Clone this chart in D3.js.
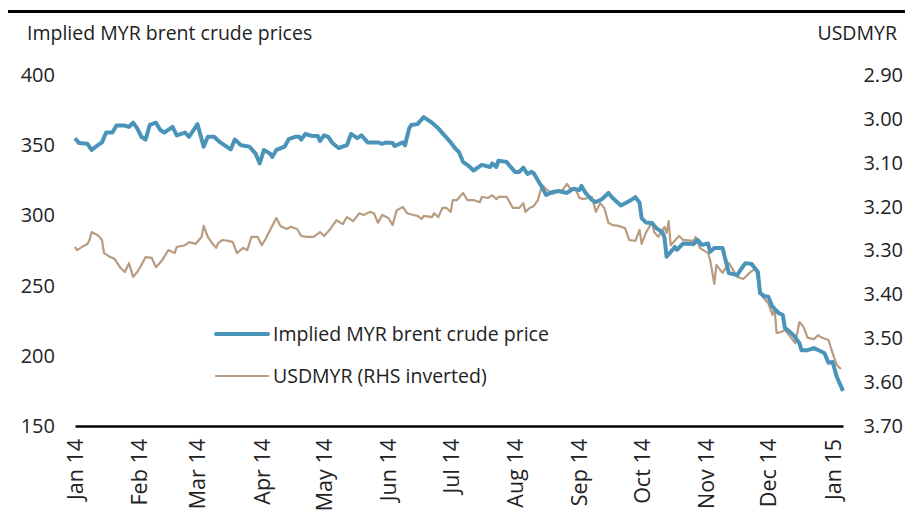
<!DOCTYPE html>
<html>
<head>
<meta charset="utf-8">
<script src="https://cdn.jsdelivr.net/npm/d3@7"></script>
<style>
  body { margin: 0; background: #fff; }
  svg text { font-family: "Open Sans", "Noto Sans", sans-serif; fill: #222; }
</style>
</head>
<body>
<div id="chart"></div>
<script>
// implied MYR brent crude price (LHS)
var brentDates = ["2014-01-01","2014-01-03","2014-01-07","2014-01-09","2014-01-12","2014-01-14","2014-01-16","2014-01-19","2014-01-21","2014-01-25",
  "2014-01-27","2014-01-29","2014-01-31","2014-02-02","2014-02-04","2014-02-06","2014-02-09","2014-02-11","2014-02-13","2014-02-17",
  "2014-02-19","2014-02-23","2014-02-25","2014-03-01","2014-03-04","2014-03-06","2014-03-09","2014-03-12","2014-03-17","2014-03-19",
  "2014-03-22","2014-03-26","2014-03-29","2014-03-31","2014-04-02","2014-04-05","2014-04-06","2014-04-08","2014-04-12","2014-04-14",
  "2014-04-17","2014-04-19","2014-04-20","2014-04-22","2014-04-25","2014-04-28","2014-04-29","2014-05-01","2014-05-03","2014-05-05",
  "2014-05-08","2014-05-12","2014-05-14","2014-05-17","2014-05-19","2014-05-22","2014-05-27","2014-05-29","2014-05-31","2014-06-03",
  "2014-06-04","2014-06-08","2014-06-09","2014-06-11","2014-06-12","2014-06-15","2014-06-18","2014-06-22","2014-06-25","2014-06-28",
  "2014-07-01","2014-07-03","2014-07-05","2014-07-07","2014-07-09","2014-07-12","2014-07-16","2014-07-20","2014-07-21","2014-07-23",
  "2014-07-24","2014-07-28","2014-07-29","2014-08-01","2014-08-03","2014-08-05","2014-08-07","2014-08-09","2014-08-10","2014-08-12",
  "2014-08-14","2014-08-16","2014-08-19","2014-08-22","2014-08-26","2014-08-29","2014-09-01","2014-09-02","2014-09-04","2014-09-07",
  "2014-09-09","2014-09-12","2014-09-15","2014-09-17","2014-09-21","2014-09-26","2014-09-28","2014-09-30","2014-10-01","2014-10-03",
  "2014-10-06","2014-10-08","2014-10-11","2014-10-12","2014-10-13","2014-10-15","2014-10-17","2014-10-18","2014-10-21","2014-10-26",
  "2014-10-28","2014-10-30","2014-11-02","2014-11-03","2014-11-05","2014-11-09","2014-11-10","2014-11-12","2014-11-16","2014-11-18",
  "2014-11-20","2014-11-23","2014-11-26","2014-11-27","2014-11-29","2014-12-01","2014-12-03","2014-12-06","2014-12-08","2014-12-09",
  "2014-12-13","2014-12-16","2014-12-17","2014-12-20","2014-12-23","2014-12-26","2014-12-28","2014-12-30","2015-01-01","2015-01-03",
  "2015-01-06"];
var brentValues = [355,351.5,351,346.6,350,352,359,359,364,364,
  363,366,362,356,354,364.4,366,361,359,363,
  357,359,356,365,349,356,356,352,347,354,
  350,349,344,337,346.6,344,341.6,346.6,349,354.4,
  356,356,354,358,356.6,356.6,353,357,356,351.6,
  348,350,358,355,357,352,352,351,352,351.6,
  349.4,352,350,362,364.4,365,370,366,362,357,
  352,348,345,338,336,332,336,334.5,337,334.5,
  339,338,336,331,331,334,329.5,331,330,325,
  320,314.5,316.7,317.4,316,319,318,321,316,311,
  309.5,311.7,316,312.4,307,311,313,309,298,295,
  294.6,291,288,284,270.5,274,277.5,275.4,280,279.6,
  282.5,279,280,274,276.8,276.8,270.5,259,257.5,262,
  266,265.4,259.7,244.7,242.6,242,235,230.5,229,220,
  215,209,204,204,205.5,203.4,202,195,195.6,185,
  175];

// USDMYR (RHS, inverted)
var fxDates = ["2014-01-01","2014-01-02","2014-01-05","2014-01-07","2014-01-08","2014-01-09","2014-01-12","2014-01-14","2014-01-15","2014-01-18",
  "2014-01-20","2014-01-23","2014-01-25","2014-01-27","2014-01-29","2014-01-31","2014-02-02","2014-02-04","2014-02-07","2014-02-09",
  "2014-02-12","2014-02-15","2014-02-18","2014-02-19","2014-02-23","2014-02-25","2014-02-28","2014-03-03","2014-03-04","2014-03-06",
  "2014-03-08","2014-03-10","2014-03-11","2014-03-13","2014-03-16","2014-03-18","2014-03-20","2014-03-23","2014-03-25","2014-03-27",
  "2014-03-30","2014-04-01","2014-04-03","2014-04-06","2014-04-08","2014-04-10","2014-04-13","2014-04-15","2014-04-18","2014-04-20",
  "2014-04-23","2014-04-26","2014-04-29","2014-05-01","2014-05-04","2014-05-07","2014-05-10","2014-05-12","2014-05-15","2014-05-18",
  "2014-05-20","2014-05-23","2014-05-25","2014-05-27","2014-05-29","2014-06-01","2014-06-03","2014-06-05","2014-06-08","2014-06-10",
  "2014-06-13","2014-06-15","2014-06-17","2014-06-18","2014-06-22","2014-06-23","2014-06-25","2014-06-27","2014-06-29","2014-07-01",
  "2014-07-02","2014-07-04","2014-07-07","2014-07-09","2014-07-12","2014-07-15","2014-07-16","2014-07-19","2014-07-21","2014-07-23",
  "2014-07-24","2014-07-28","2014-07-31","2014-08-03","2014-08-05","2014-08-06","2014-08-08","2014-08-10","2014-08-12","2014-08-14",
  "2014-08-16","2014-08-19","2014-08-21","2014-08-24","2014-08-26","2014-08-28","2014-08-30","2014-09-01","2014-09-03","2014-09-07",
  "2014-09-09","2014-09-11","2014-09-13","2014-09-15","2014-09-17","2014-09-20","2014-09-23","2014-09-25","2014-09-28","2014-09-30",
  "2014-10-01","2014-10-03","2014-10-06","2014-10-07","2014-10-09","2014-10-11","2014-10-12","2014-10-13","2014-10-14","2014-10-15",
  "2014-10-19","2014-10-21","2014-10-26","2014-10-27","2014-10-29","2014-11-02","2014-11-03","2014-11-05","2014-11-06","2014-11-09",
  "2014-11-12","2014-11-16","2014-11-19","2014-11-22","2014-11-25","2014-11-26","2014-11-28","2014-12-01","2014-12-03","2014-12-04",
  "2014-12-05","2014-12-07","2014-12-09","2014-12-11","2014-12-14","2014-12-16","2014-12-18","2014-12-20","2014-12-23","2014-12-25",
  "2014-12-27","2014-12-30","2015-01-01","2015-01-03","2015-01-05"];
var fxValues = [3.292,3.299,3.290,3.285,3.276,3.258,3.265,3.276,3.306,3.315,
  3.319,3.340,3.349,3.329,3.360,3.349,3.333,3.315,3.317,3.338,
  3.322,3.299,3.306,3.292,3.288,3.281,3.285,3.269,3.244,3.269,
  3.283,3.294,3.283,3.276,3.278,3.281,3.306,3.294,3.299,3.269,
  3.269,3.288,3.272,3.244,3.226,3.244,3.251,3.246,3.251,3.267,
  3.269,3.269,3.258,3.267,3.251,3.231,3.240,3.224,3.233,3.215,
  3.219,3.212,3.215,3.237,3.219,3.226,3.242,3.208,3.201,3.215,
  3.219,3.221,3.228,3.221,3.224,3.215,3.224,3.203,3.203,3.212,
  3.185,3.185,3.169,3.185,3.185,3.190,3.178,3.180,3.174,3.183,
  3.178,3.178,3.203,3.203,3.192,3.212,3.203,3.199,3.185,3.151,
  3.160,3.171,3.167,3.162,3.148,3.162,3.158,3.180,3.183,3.178,
  3.212,3.192,3.203,3.237,3.242,3.244,3.249,3.276,3.278,3.253,
  3.285,3.260,3.235,3.258,3.269,3.253,3.246,3.260,3.233,3.288,
  3.267,3.276,3.278,3.269,3.294,3.306,3.322,3.376,3.333,3.351,
  3.328,3.360,3.365,3.351,3.340,3.367,3.404,3.420,3.447,3.430,
  3.488,3.486,3.481,3.493,3.511,3.463,3.474,3.499,3.502,3.493,
  3.499,3.504,3.534,3.561,3.570];

var leftTicks = [150, 200, 250, 300, 350, 400];
var rightTicks = [2.9, 3.0, 3.1, 3.2, 3.3, 3.4, 3.5, 3.6, 3.7];
var monthTicks = ["2014-01-01","2014-02-01","2014-03-01","2014-04-01","2014-05-01","2014-06-01","2014-07-01",
  "2014-08-01","2014-09-01","2014-10-01","2014-11-01","2014-12-01","2015-01-01"];
var seriesNames = ["Implied MYR brent crude price", "USDMYR (RHS inverted)"];

var W = 905, H = 515;
var parse = d3.timeParse("%Y-%m-%d");

var svg = d3.select("#chart").append("svg")
    .attr("width", W)
    .attr("height", H);

// scales
var x = d3.scaleTime()
    .domain([parse("2014-01-01"), parse("2015-01-06")])
    .range([75, 843]);
var yL = d3.scaleLinear().domain([150, 400]).range([426, 75]);
var yR = d3.scaleLinear().domain([2.9, 3.7]).range([75, 426]);   // inverted

// top rule
svg.append("line")
    .attr("x1", 8).attr("x2", W)
    .attr("y1", 11.5).attr("y2", 11.5)
    .attr("stroke", "#000").attr("stroke-width", 3);

// axis titles
svg.append("text")
    .attr("x", 27).attr("y", 40)
    .attr("font-size", "19.5px")
    .text("Implied MYR brent crude prices");
svg.append("text")
    .attr("x", 897).attr("y", 40)
    .attr("font-size", "19.5px")
    .attr("text-anchor", "end")
    .text("USDMYR");

// left axis
var leftAxis = svg.append("g")
    .attr("transform", "translate(56,0)")
    .call(d3.axisLeft(yL).tickValues(leftTicks).tickSize(0).tickPadding(1));
leftAxis.select(".domain").remove();
leftAxis.selectAll("text").attr("font-size", "20px").attr("fill", "#222")
    .style("font-family", "'Open Sans', sans-serif");

// right axis
var rightAxis = svg.append("g")
    .attr("transform", "translate(903,0)")
    .call(d3.axisLeft(yR).tickValues(rightTicks).tickFormat(d3.format(".2f")).tickSize(0).tickPadding(0));
rightAxis.select(".domain").remove();
rightAxis.selectAll("text").attr("font-size", "20px").attr("fill", "#222")
    .style("font-family", "'Open Sans', sans-serif");

// x axis
var xAxis = svg.append("g")
    .attr("transform", "translate(0,426)")
    .call(d3.axisBottom(x).tickValues(monthTicks.map(parse)).tickFormat(d3.timeFormat("%b %y")).tickSize(0));
xAxis.select(".domain")
    .attr("stroke", "#000").attr("stroke-width", 2.5);
xAxis.selectAll("text")
    .attr("font-size", "21.5px").attr("fill", "#222")
    .style("font-family", "'Open Sans', sans-serif")
    .attr("text-anchor", "end")
    .attr("transform", "rotate(-90)")
    .attr("x", -13)
    .attr("y", 0)
    .attr("dy", "0.35em");

// lines
var brentData = brentDates.map(function(d, i){ return { date: parse(d), v: brentValues[i] }; });
var fxData = fxDates.map(function(d, i){ return { date: parse(d), v: fxValues[i] }; });

svg.append("path")
    .datum(fxData)
    .attr("fill", "none")
    .attr("stroke", "#b89c80")
    .attr("stroke-width", 2.2)
    .attr("stroke-linejoin", "round")
    .attr("d", d3.line().x(function(d){ return x(d.date); }).y(function(d){ return yR(d.v); }));

svg.append("path")
    .datum(brentData)
    .attr("fill", "none")
    .attr("stroke", "#4a94ba")
    .attr("stroke-width", 4)
    .attr("stroke-linejoin", "round")
    .attr("d", d3.line().x(function(d){ return x(d.date); }).y(function(d){ return yL(d.v); }));

// legend
var legend = svg.append("g");
var legendStyles = [{ color: "#4a94ba", w: 4, y: 334 }, { color: "#b89c80", w: 2.2, y: 376 }];
legend.selectAll("line")
    .data(seriesNames)
    .enter().append("line")
    .attr("x1", 216).attr("x2", 268)
    .attr("y1", function(d, i){ return legendStyles[i].y; })
    .attr("y2", function(d, i){ return legendStyles[i].y; })
    .attr("stroke", function(d, i){ return legendStyles[i].color; })
    .attr("stroke-width", function(d, i){ return legendStyles[i].w; })
    .attr("stroke-linecap", "round");
legend.selectAll("text")
    .data(seriesNames)
    .enter().append("text")
    .attr("x", 273)
    .attr("y", function(d, i){ return legendStyles[i].y; })
    .attr("dy", "0.35em")
    .attr("font-size", "19.5px")
    .text(function(d){ return d; });
</script>
</body>
</html>
